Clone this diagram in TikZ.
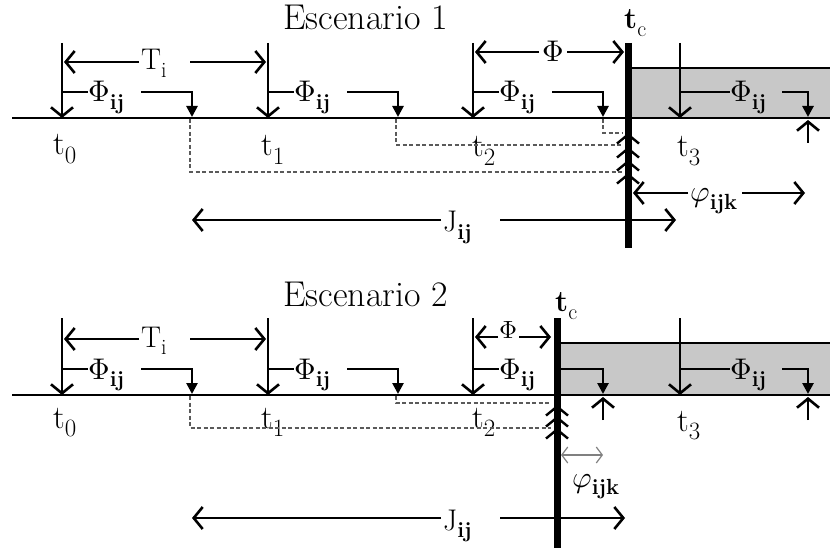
\documentclass[tikz,border=0pt]{standalone}
\usepackage{unicode-math}
\setmathfont{Latin Modern Math}
\usetikzlibrary{arrows.meta}
\definecolor{boxgray}{RGB}{200,200,200}
\definecolor{dashgray}{RGB}{90,90,90}
\newcommand{\sbx}[1]{\mbox{\fontsize{22}{24}\selectfont #1}}
\newcommand{\sbt}[1]{\mbox{\fontsize{25}{27}\selectfont #1}}
\begin{document}
\begin{tikzpicture}[x=1bp,y=-1bp,
  ax/.style={line width=2.6bp},
  barb/.style={line width=2.6bp,-{Straight Barb[length=9bp,width=22bp]}},
  fill tip/.style={line width=2.6bp,-{Triangle[length=11bp,width=11bp]}},
  chev/.style={line width=2.4bp,-{Straight Barb[length=9bp,width=22bp]}},
  dash line/.style={line width=1.6bp,dashgray,dash pattern=on 4bp off 2.5bp},
  tcline/.style={line width=7bp},
  lab/.style={font=\fontsize{30}{34}\selectfont,inner sep=0pt,anchor=base west},
  tlab/.style={font=\fontsize{33}{36}\selectfont,inner sep=0pt,anchor=base west},
  ttl/.style={font=\fontsize{36}{40}\selectfont,inner sep=0pt,anchor=base west},
  small arrow/.style={line width=1.2bp,gray,{Straight Barb[length=6bp,width=16bp]}-{Straight Barb[length=6bp,width=16bp]}}
]
\useasboundingbox (0,0) rectangle (830,555);

%================ Escenario 1 ================
\node[ttl] (ttlA) at (283,30) {Escenario 1};
\fill[boxgray] (631,68) rectangle (830,118);
\draw[line width=2bp] (631,68) coordinate (boxAl) -- (830,68) coordinate (boxAr);
\draw[ax] (12,118) coordinate (axAl) -- (830,118) coordinate (axAr);

% ticks
\foreach \x/\n in {62/0,268/1,473/2,680/3}{
  \coordinate (Atop\n) at (\x,43);
  \coordinate (Abot\n) at (\x,118);
  \draw[barb] (Atop\n) -- (Abot\n);
}
\node[tlab] (At0) at (53,155) {$\mathrm{t}_{\sbt{0}}$};
\node[tlab] (At1) at (261,156) {$\mathrm{t}_{\sbt{1}}$};
\node[tlab] (At2) at (472,157) {$\mathrm{t}_{\sbt{2}}$};
\node[tlab] (At3) at (677,157) {$\mathrm{t}_{\sbt{3}}$};

% T_i
\node[lab] (ATi) at (141,70) {$\mathrm{T}_{\sbx{i}}$};
\coordinate (ATiL) at (139,62); \coordinate (ATiR) at (190,62);
\draw[barb] (ATiL) -- (64,62);
\draw[barb] (ATiR) -- (266,62);

% Phi
\node[lab,anchor=base] (APhi) at (553,62) {$\Phi$};
\coordinate (APhiL) at (539,52); \coordinate (APhiR) at (567,52);
\draw[barb] (APhiL) -- (475,52);
\draw[barb] (APhiR) -- (624,52);

% Phi_ij brackets
\foreach \x/\n in {62/0,268/1,473/2}{
  \node[lab] (APij\n) at (\x+26,102) {$\Phi_{\sbx{\bfseries ij}}$};
  \coordinate (APs\n) at (\x,92);
  \coordinate (APe\n) at (\x+26,92);
  \coordinate (APf\n) at (\x+79,92);
  \coordinate (APc\n) at (\x+130,92);
  \coordinate (APd\n) at (\x+130,117);
  \draw[line width=2.6bp] (APs\n) -- (APe\n);
  \draw[fill tip] (APf\n) -- (APc\n) -- (APd\n);
}
\node[lab] (APij3) at (730,102) {$\Phi_{\sbx{\bfseries ij}}$};
\coordinate (APs3) at (680,92); \coordinate (APe3) at (730,92);
\coordinate (APf3) at (782,92); \coordinate (APc3) at (808,92); \coordinate (APd3) at (808,117);
\draw[line width=2.6bp] (APs3) -- (APe3);
\draw[fill tip] (APf3) -- (APc3) -- (APd3);
\coordinate (AupS) at (808,143); \coordinate (AupE) at (808,120);
\draw[barb] (AupS) -- (AupE);

% dashed links
\draw[dash line] (190,119) coordinate (Ad0a) -- (190,172) -- (622,172) coordinate (Ad0b);
\draw[dash line] (396,119) coordinate (Ad1a) -- (396,145) -- (622,145) coordinate (Ad1b);
\draw[dash line] (603,119) coordinate (Ad2a) -- (603,133) -- (622,133) coordinate (Ad2b);

% t_c line
\coordinate (AtcT) at (628,43); \coordinate (AtcB) at (628,248);
\draw[tcline] (AtcT) -- (AtcB);
\node[lab] (Atc) at (624,29) {$\mathbf{t}_{\sbx{c}}$};
\foreach \y/\n in {133/0,147/1,160/2,173/3}{
  \coordinate (Ach\n a) at (628,\y+12);
  \coordinate (Ach\n b) at (628,\y);
  \draw[chev] (Ach\n a) -- (Ach\n b);
}

% varphi_ijk
\node[lab] (Avp) at (690,202) {$\varphi_{\sbx{\bfseries ijk}}$};
\coordinate (AvpL) at (688,193); \coordinate (AvpR) at (742,193);
\draw[barb] (AvpL) -- (633,193);
\draw[barb] (AvpR) -- (805,193);

% J_ij
\node[lab] (AJ) at (443,232) {$\mathrm{J}_{\sbx{\bfseries ij}}$};
\coordinate (AJL) at (441,220); \coordinate (AJR) at (500,220);
\draw[barb] (AJL) -- (192,220);
\draw[barb] (AJR) -- (676,220);

%================ Escenario 2 ================
\node[ttl] (ttlB) at (283,307) {Escenario 2};
\fill[boxgray] (560,343) rectangle (830,395);
\draw[line width=2bp] (560,343) coordinate (boxBl) -- (830,343) coordinate (boxBr);
\draw[ax] (12,395) coordinate (axBl) -- (830,395) coordinate (axBr);

\foreach \x/\n in {62/0,268/1,473/2,680/3}{
  \coordinate (Btop\n) at (\x,318);
  \coordinate (Bbot\n) at (\x,395);
  \draw[barb] (Btop\n) -- (Bbot\n);
}
\node[tlab] (Bt0) at (53,428) {$\mathrm{t}_{\sbt{0}}$};
\node[tlab] (Bt1) at (261,428) {$\mathrm{t}_{\sbt{1}}$};
\node[tlab] (Bt2) at (472,428) {$\mathrm{t}_{\sbt{2}}$};
\node[tlab] (Bt3) at (677,431) {$\mathrm{t}_{\sbt{3}}$};

% T_i
\node[lab] (BTi) at (141,347) {$\mathrm{T}_{\sbx{i}}$};
\coordinate (BTiL) at (139,339); \coordinate (BTiR) at (190,339);
\draw[barb] (BTiL) -- (64,339);
\draw[barb] (BTiR) -- (266,339);

% Phi
\node[lab,anchor=base,font=\fontsize{25}{28}\selectfont] (BPhi) at (508,338) {$\Phi$};
\coordinate (BPhiL) at (498,337); \coordinate (BPhiR) at (519,337);
\draw[barb] (BPhiL) -- (475,337);
\draw[barb] (BPhiR) -- (551,337);

% Phi_ij brackets
\foreach \x/\n in {62/0,268/1}{
  \node[lab] (BPij\n) at (\x+26,379) {$\Phi_{\sbx{\bfseries ij}}$};
  \coordinate (BPs\n) at (\x,369);
  \coordinate (BPe\n) at (\x+26,369);
  \coordinate (BPf\n) at (\x+79,369);
  \coordinate (BPc\n) at (\x+130,369);
  \coordinate (BPd\n) at (\x+130,394);
  \draw[line width=2.6bp] (BPs\n) -- (BPe\n);
  \draw[fill tip] (BPf\n) -- (BPc\n) -- (BPd\n);
}
\node[lab] (BPij2) at (499,379) {$\Phi_{\sbx{\bfseries ij}}$};
\coordinate (BPs2) at (473,369); \coordinate (BPe2) at (499,369);
\draw[line width=2.6bp] (BPs2) -- (BPe2);
\coordinate (BPf2) at (557,369); \coordinate (BPc2) at (603,369); \coordinate (BPd2) at (603,394);
\draw[fill tip] (BPf2) -- (BPc2) -- (BPd2);
\node[lab] (BPij3) at (730,379) {$\Phi_{\sbx{\bfseries ij}}$};
\coordinate (BPs3) at (680,369); \coordinate (BPe3) at (730,369);
\coordinate (BPf3) at (782,369); \coordinate (BPc3) at (808,369); \coordinate (BPd3) at (808,394);
\draw[line width=2.6bp] (BPs3) -- (BPe3);
\draw[fill tip] (BPf3) -- (BPc3) -- (BPd3);
\foreach \x/\n in {603/0,808/1}{
  \coordinate (BupS\n) at (\x,420); \coordinate (BupE\n) at (\x,397);
  \draw[barb] (BupS\n) -- (BupE\n);
}

% dashed links
\draw[dash line] (190,396) coordinate (Bd0a) -- (190,428) -- (551,428) coordinate (Bd0b);
\draw[dash line] (396,396) coordinate (Bd1a) -- (396,403) -- (551,403) coordinate (Bd1b);

% t_c line
\coordinate (BtcT) at (557,318); \coordinate (BtcB) at (557,548);
\draw[tcline] (BtcT) -- (BtcB);
\node[lab] (Btc) at (555,312) {$\mathbf{t}_{\sbx{c}}$};
\foreach \y/\n in {405/0,416/1,428/2}{
  \coordinate (Bch\n a) at (557,\y+12);
  \coordinate (Bch\n b) at (557,\y);
  \draw[chev] (Bch\n a) -- (Bch\n b);
}

% varphi_ijk
\coordinate (BvpL) at (561,455); \coordinate (BvpR) at (603,455);
\draw[small arrow] (BvpL) -- (BvpR);
\node[lab] (Bvp) at (572,487) {$\varphi_{\sbx{\bfseries ijk}}$};

% J_ij
\node[lab] (BJ) at (443,530) {$\mathrm{J}_{\sbx{\bfseries ij}}$};
\coordinate (BJL) at (441,518); \coordinate (BJR) at (500,518);
\draw[barb] (BJL) -- (192,518);
\draw[barb] (BJR) -- (625,518);
\end{tikzpicture}
\end{document}
